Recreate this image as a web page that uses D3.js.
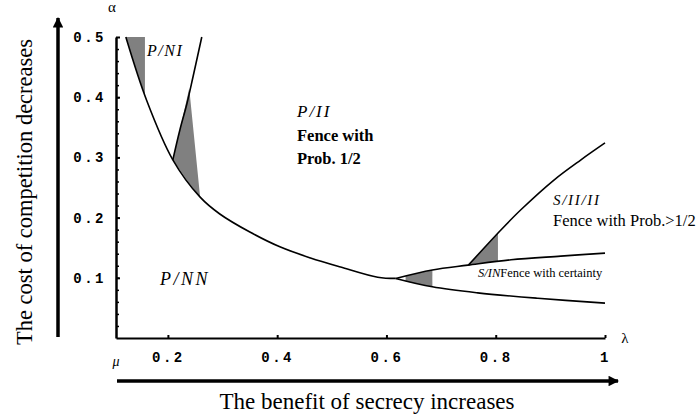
<!DOCTYPE html>
<html lang="en">
<head>
    <meta charset="UTF-8">
    <title>Fence regions</title>
    <script src="https://d3js.org/d3.v7.min.js"></script>
    <style>
        body {
            margin: 0;
            background: #fff;
        }
        .tick text {
            font-family: "Liberation Mono", monospace;
            font-weight: bold;
            font-size: 14px;
            letter-spacing: 2.5px;
            fill: #000;
        }
        .serif {
            font-family: "Liberation Serif", "Times New Roman", serif;
            fill: #000;
        }
    </style>
</head>
<body>
    <svg id="chart"></svg>

    <script>
        // Curve data (lambda on x, alpha on y)
        const boundaryLam   = [0.123, 0.161, 0.209, 0.259, 0.295, 0.350, 0.406, 0.461, 0.516, 0.584, 0.617];
        const boundaryAlpha = [0.500, 0.395, 0.296, 0.234, 0.206, 0.176, 0.151, 0.133, 0.118, 0.101, 0.099];

        const upperLam   = [0.617, 0.684, 0.749, 0.828, 0.919, 1.000];
        const upperAlpha = [0.099, 0.113, 0.121, 0.130, 0.136, 0.141];

        const lowerLam   = [0.617, 0.684, 0.767, 0.877, 1.000];
        const lowerAlpha = [0.099, 0.085, 0.075, 0.066, 0.058];

        const niLam   = [0.209, 0.222, 0.235, 0.246, 0.262];
        const niAlpha = [0.296, 0.346, 0.390, 0.434, 0.500];

        const iiLam   = [0.750, 0.809, 0.846, 0.906, 0.956, 1.000];
        const iiAlpha = [0.121, 0.179, 0.213, 0.262, 0.296, 0.324];

        // grey wedges, [lambda, alpha] corners
        const shades = [
            [[0.123, 0.5], [0.158, 0.5], [0.158, 0.402], [0.140, 0.450]],
            [[0.209, 0.296], [0.222, 0.346], [0.239, 0.415], [0.259, 0.234], [0.235, 0.262]],
            [[0.635, 0.103], [0.684, 0.113], [0.684, 0.085], [0.635, 0.094]],
            [[0.750, 0.121], [0.804, 0.174], [0.804, 0.128]]
        ];

        const xTicks = [0.2, 0.4, 0.6, 0.8, 1];
        const yTicks = [0.1, 0.2, 0.3, 0.4, 0.5];
        const yMinor = d3.range(0.02, 0.5, 0.02);

        const W = 700, H = 418;

        const svg = d3.select("#chart")
                      .attr("width", W)
                      .attr("height", H);

        const x = d3.scaleLinear().domain([0.105, 1]).range([116, 605]);
        const y = d3.scaleLinear().domain([0, 0.5]).range([338, 37]);

        const toPts = (lam, al) => lam.map((l, i) => [l, al[i]]);

        // Shaded regions first, lines on top
        svg.selectAll(".shade")
           .data(shades)
           .enter()
           .append("polygon")
           .attr("class", "shade")
           .attr("points", d => d.map(p => [x(p[0]), y(p[1])].join(",")).join(" "))
           .attr("fill", "#808080");

        const line = d3.line()
                       .x(d => x(d[0]))
                       .y(d => y(d[1]))
                       .curve(d3.curveCatmullRom);

        const curves = [
            toPts(boundaryLam, boundaryAlpha),
            toPts(upperLam, upperAlpha),
            toPts(lowerLam, lowerAlpha),
            toPts(niLam, niAlpha),
            toPts(iiLam, iiAlpha)
        ];

        svg.selectAll(".curve")
           .data(curves)
           .enter()
           .append("path")
           .attr("class", "curve")
           .attr("d", line)
           .attr("fill", "none")
           .attr("stroke", "#000")
           .attr("stroke-width", 1.6);

        // X axis
        const xAxis = svg.append("g")
           .attr("transform", `translate(0,${y(0)})`)
           .call(d3.axisBottom(x)
                   .tickValues(xTicks)
                   .tickSizeInner(-3)
                   .tickSizeOuter(0)
                   .tickPadding(14)
                   .tickFormat(d => d === 1 ? "1" : d3.format(".1f")(d)));
        xAxis.select(".domain").attr("stroke-width", 2);
        xAxis.selectAll(".tick line").attr("stroke-width", 2);

        // Y axis minor ticks
        svg.append("g")
           .attr("transform", `translate(${x(0.105)},0)`)
           .call(d3.axisLeft(y).tickValues(yMinor).tickSizeInner(-3).tickSizeOuter(0).tickFormat(""))
           .call(g => g.select(".domain").remove())
           .selectAll(".tick line").attr("stroke-width", 1.5);

        // Y axis
        const yAxis = svg.append("g")
           .attr("transform", `translate(${x(0.105)},0)`)
           .call(d3.axisLeft(y)
                   .tickValues(yTicks)
                   .tickSizeInner(-4)
                   .tickSizeOuter(0)
                   .tickPadding(10)
                   .tickFormat(d3.format(".1f")));
        yAxis.select(".domain").attr("stroke-width", 2.5);
        yAxis.selectAll(".tick line").attr("stroke-width", 2);

        // axis symbols
        svg.append("text").attr("class", "serif")
           .attr("x", 112).attr("y", 12).attr("text-anchor", "middle")
           .style("font-size", "15px").text("α");
        svg.append("text").attr("class", "serif")
           .attr("x", 625).attr("y", 343).attr("text-anchor", "middle")
           .style("font-size", "15px").text("λ");
        svg.append("text").attr("class", "serif")
           .attr("x", 116).attr("y", 366).attr("text-anchor", "middle")
           .style("font-size", "14px").style("font-style", "italic").text("μ");

        // big arrows
        const defs = svg.append("defs");
        defs.append("marker")
            .attr("id", "head")
            .attr("viewBox", "0 0 10 10")
            .attr("refX", 9).attr("refY", 5)
            .attr("markerWidth", 3.2).attr("markerHeight", 3)
            .attr("markerUnits", "strokeWidth")
            .attr("orient", "auto")
            .append("path")
            .attr("d", "M0,0L10,5L0,10z")
            .attr("fill", "#000");

        svg.append("line")
           .attr("x1", 58).attr("y1", 337).attr("x2", 58).attr("y2", 18)
           .attr("stroke", "#000").attr("stroke-width", 3.5)
           .attr("marker-end", "url(#head)");
        svg.append("line")
           .attr("x1", 117).attr("y1", 381).attr("x2", 618).attr("y2", 381)
           .attr("stroke", "#000").attr("stroke-width", 3.5)
           .attr("marker-end", "url(#head)");

        // axis titles
        svg.append("text").attr("class", "serif")
           .attr("transform", "translate(32,192) rotate(-90)")
           .attr("text-anchor", "middle")
           .style("font-size", "22.5px")
           .text("The cost of competition decreases");
        svg.append("text").attr("class", "serif")
           .attr("x", 367).attr("y", 409)
           .attr("text-anchor", "middle")
           .style("font-size", "23px")
           .text("The benefit of secrecy increases");

        // region labels
        const addLabel = (lx, ly, txt, size, style, weight, ls) =>
            svg.append("text").attr("class", "serif")
               .attr("x", lx).attr("y", ly)
               .style("font-size", size + "px")
               .style("font-style", style || "normal")
               .style("font-weight", weight || "normal")
               .style("letter-spacing", (ls || 0) + "px")
               .text(txt);

        addLabel(147, 56, "P/NI", 16, "italic", "normal", 1.5);
        addLabel(297, 117, "P/II", 17, "italic", "normal", 2);
        addLabel(297, 141, "Fence with", 16.5, "normal", "bold");
        addLabel(297, 164, "Prob. 1/2", 16.5, "normal", "bold");
        addLabel(160, 285, "P/NN", 18, "italic", "normal", 2.5);
        addLabel(553, 205, "S/II/II", 15, "italic", "normal", 1.7);
        addLabel(553, 226, "Fence with Prob.>1/2", 16.5);

        const certain = svg.append("text").attr("class", "serif")
           .attr("x", 478).attr("y", 277)
           .style("font-size", "12.5px");
        certain.append("tspan").style("font-style", "italic").text("S/IN");
        certain.append("tspan").text("Fence with certainty");
    </script>
</body>
</html>
